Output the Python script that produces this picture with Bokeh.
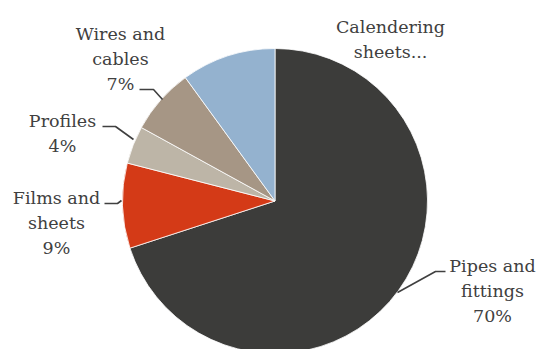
import numpy as np
from bokeh.plotting import figure
from bokeh.models import Range1d, ColumnDataSource
from bokeh.core.properties import value
from bokeh.embed import file_html
from bokeh.resources import INLINE

# ---- data ----
categories = ["Pipes and fittings", "Films and sheets", "Profiles", "Wires and cables", "Calendering sheets"]
shares = [70, 9, 4, 7, 10]
colors = ["#3c3c3a", "#d43a17", "#bdb5a7", "#a69685", "#94b2cf"]
label_lines = [
    ["Pipes and", "fittings", "{}%"],
    ["Films and", "sheets", "{}%"],
    ["Profiles", "{}%"],
    ["Wires and", "cables", "{}%"],
    ["Calendering", "sheets..."],
]

# ---- layout (screen pixel coordinates of the 539x349 page) ----
W, H = 539, 349
def sy(y):
    return H - y

cx, cy, r = 274.5, sy(200.5), 152.5
label_pos = [(492, 265), (56, 197), (62, 120), (120, 33), (390, 26)]
line_gap = 25
leaders = [
    [(445, 271), (435, 271), (397, 292)],
    [(104, 203), (117, 203), (121, 200)],
    [(102, 126), (115, 126), (133, 139)],
    [(139, 89), (153, 89), (162, 99)],
]

p = figure(width=W, height=H, output_backend="svg", toolbar_location=None,
           x_range=Range1d(0, W), y_range=Range1d(0, H),
           min_border=0, outline_line_color=None)
p.axis.visible = False
p.grid.visible = False
p.background_fill_color = "white"
p.border_fill_color = "white"

vals = np.array(shares, dtype=float)
frac = vals / vals.sum()
cum = np.concatenate([[0], np.cumsum(frac)])
start = np.pi / 2 - 2 * np.pi * cum[1:]
end = np.pi / 2 - 2 * np.pi * cum[:-1]
src = ColumnDataSource(dict(start=start, end=end, color=colors, cat=categories))
p.wedge(x=cx, y=cy, radius=r, start_angle="start", end_angle="end",
        direction="anticlock", fill_color="color", line_color="white",
        line_width=0.8, source=src)

# leader lines
for pts in leaders:
    xs = [q[0] for q in pts]
    ys = [sy(q[1]) for q in pts]
    p.line(xs, ys, line_color="#404040", line_width=1.6)

# labels
tx, ty, tt = [], [], []
for i, lines in enumerate(label_lines):
    x0, y0 = label_pos[i]
    for j, ln in enumerate(lines):
        tx.append(x0)
        ty.append(sy(y0 + j * line_gap))
        tt.append(ln.format(shares[i]) if "{}" in ln else ln)
p.text(x=tx, y=ty, text=tt, text_align="center", text_baseline="middle",
       text_font=value("DejaVu Serif"), text_font_size="17.5px", text_color="#404040")

open("out.html", "w").write(file_html(p, INLINE))
